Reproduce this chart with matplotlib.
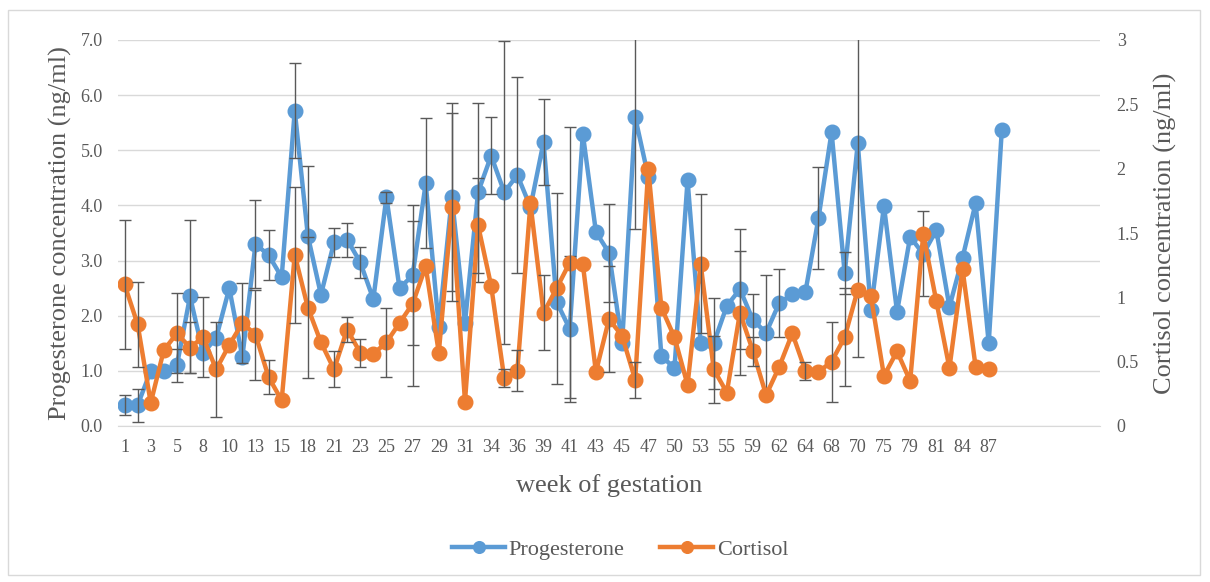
import numpy as np
import matplotlib.pyplot as plt
from matplotlib.patches import Rectangle

# week of gestation for each sampled category (last 7 categories are empty)
weeks = [1, 2, 3, 4, 5, 6, 8, 9, 10, 12, 13, 14, 15, 16, 18, 20, 21, 22, 23, 24,
         25, 26, 27, 28, 29, 30, 31, 33, 34, 35, 36, 38, 39, 40, 41, 42, 43, 44, 45, 46,
         47, 49, 50, 52, 53, 54, 55, 57, 59, 61, 62, 63, 64, 66, 68, 69, 70, 72, 75, 77,
         79, 80, 81, 83, 84, 85, 87, 88]
n_empty = 7

progesterone = [0.38, 0.38, 1.0, 1.0, 1.1, 2.35, 1.32, 1.6, 2.5, 1.25,
                3.3, 3.1, 2.7, 5.72, 3.45, 2.38, 3.33, 3.38, 2.97, 2.3,
                4.15, 2.5, 2.73, 4.4, 1.8, 4.15, 1.87, 4.24, 4.9, 4.24,
                4.55, 3.97, 5.15, 2.25, 1.76, 5.3, 3.52, 3.14, 1.5, 5.6,
                4.52, 1.27, 1.05, 4.46, 1.5, 1.5, 2.18, 2.48, 1.92, 1.69,
                2.23, 2.39, 2.43, 3.77, 5.33, 2.77, 5.13, 2.1, 3.99, 2.07,
                3.43, 3.12, 3.55, 2.16, 3.05, 4.04, 1.5, 5.37]

cortisol = [1.1, 0.79, 0.18, 0.59, 0.72, 0.61, 0.69, 0.44, 0.63, 0.8,
            0.71, 0.38, 0.2, 1.33, 0.92, 0.65, 0.44, 0.75, 0.57, 0.56,
            0.65, 0.8, 0.95, 1.24, 0.57, 1.7, 0.19, 1.56, 1.09, 0.37,
            0.43, 1.73, 0.88, 1.07, 1.27, 1.26, 0.42, 0.83, 0.7, 0.36,
            2.0, 0.92, 0.69, 0.32, 1.26, 0.44, 0.26, 0.88, 0.58, 0.24,
            0.46, 0.72, 0.43, 0.42, 0.5, 0.69, 1.06, 1.01, 0.39, 0.58,
            0.35, 1.49, 0.97, 0.45, 1.22, 0.46, 0.44, np.nan]

# error bar half-lengths (0 = no bar)
prog_err = [0.18, 0.3, 0, 0, 0.3, 1.38, 0, 0, 0, 0,
            0.8, 0.45, 0, 0.86, 1.27, 0, 0.26, 0.31, 0.28, 0,
            0.1, 0, 1.27, 1.18, 0, 1.7, 0, 1.62, 0.7, 2.75,
            1.78, 0, 0.78, 0, 1.33, 0, 0, 0.89, 0, 2.03,
            0, 0, 0, 0, 0, 0.82, 0, 1.09, 0.47, 1.05,
            0.62, 0, 0, 0.92, 0, 0.38, 3.88, 0, 0, 0,
            0, 0.77, 0, 0, 0, 0, 0, 0]

cort_err = [0.5, 0.33, 0, 0, 0.31, 0.2, 0.31, 0.37, 0, 0.31,
            0.35, 0.13, 0, 0.53, 0.55, 0, 0.14, 0.1, 0.11, 0,
            0.27, 0, 0.64, 0, 0, 0.73, 0, 0.37, 0, 0.07,
            0.16, 0, 0.29, 0.74, 1.05, 0, 0, 0.41, 0, 0.14,
            0, 0, 0, 0, 0.54, 0.26, 0, 0.48, 0.11, 0,
            0, 0, 0.07, 0, 0.31, 0.38, 0, 0, 0, 0,
            0, 0, 0, 0, 0, 0, 0, 0]

blue = '#5B9BD5'
orange = '#ED7D31'
txt = '#595959'
grid = '#D9D9D9'

plt.rcParams['font.family'] = ['Liberation Serif', 'DejaVu Serif']

x = np.arange(len(weeks))
p = np.array(progesterone)
c = np.array(cortisol)
pe = np.array(prog_err)
ce = np.array(cort_err)

fig = plt.figure(figsize=(12.1, 5.82), dpi=100)
fig.patches.append(Rectangle((8 / 1210, 1 - 575 / 582), 1192 / 1210, 565 / 582,
                             transform=fig.transFigure, fill=False,
                             edgecolor=grid, linewidth=1))
fig.subplots_adjust(left=118 / 1210, right=1100 / 1210, top=1 - 40 / 582, bottom=1 - 426 / 582)
ax = fig.add_subplot(111)
ax2 = ax.twinx()

ax.plot(x, p, color=blue, lw=3.2, marker='o', ms=10.5, label='Progesterone', zorder=3)
m = pe > 0
ax.errorbar(x[m], p[m], yerr=pe[m], fmt='none', ecolor='#595959', elinewidth=1,
            capsize=4, capthick=1, zorder=4)

ax2.plot(x, c, color=orange, lw=3.2, marker='o', ms=10.5, label='Cortisol', zorder=3)
m = ce > 0
ax2.errorbar(x[m], c[m], yerr=ce[m], fmt='none', ecolor='#595959', elinewidth=1,
             capsize=4, capthick=1, zorder=4)

total = len(weeks) + n_empty
ax.set_xlim(-0.5, total - 0.5)
ax.set_ylim(0, 7)
ax2.set_ylim(0, 3)
ax.set_yticks(np.arange(0, 7.1, 1))
ax.set_yticklabels([f'{v:.1f}' for v in np.arange(0, 7.1, 1)])
ax2.set_yticks([0, 0.5, 1, 1.5, 2, 2.5, 3])
ax2.set_yticklabels(['0', '0.5', '1', '1.5', '2', '2.5', '3'])
ax.set_xticks(x[::2])
ax.set_xticklabels([str(w) for w in weeks[::2]])

ax.grid(axis='y', color=grid, lw=1)
ax.set_axisbelow(True)
for a in (ax, ax2):
    for s in a.spines.values():
        s.set_visible(False)
ax.spines['bottom'].set_visible(True)
ax.spines['bottom'].set_color(grid)

ax.tick_params(axis='y', length=0, pad=11, labelsize=13, labelcolor=txt)
ax.tick_params(axis='x', length=0, pad=9, labelsize=13, labelcolor=txt)
ax2.tick_params(axis='y', length=0, pad=12, labelsize=13, labelcolor=txt)

ax.set_ylabel('Progesterone concentration (ng/ml)', fontsize=19, color=txt)
ax.yaxis.set_label_coords(-0.047, 0.5)
ax2.set_ylabel('Cortisol concentration (ng/ml)', fontsize=19, color=txt)
ax2.yaxis.set_label_coords(1.055, 0.5)
ax.set_xlabel('week of gestation', fontsize=19, color=txt)
ax.xaxis.set_label_coords(0.5, -0.124)

h1, l1 = ax.get_legend_handles_labels()
h2, l2 = ax2.get_legend_handles_labels()
leg = fig.legend(h1 + h2, l1 + l2, loc='center', bbox_to_anchor=(620 / 1210, 1 - 550 / 582),
                 ncol=2, frameon=False, fontsize=16, handlelength=2.4, columnspacing=1.6,
                 handletextpad=0.15, markerscale=0.8)
for t in leg.get_texts():
    t.set_color(txt)

fig.savefig('out.png', dpi=100)
